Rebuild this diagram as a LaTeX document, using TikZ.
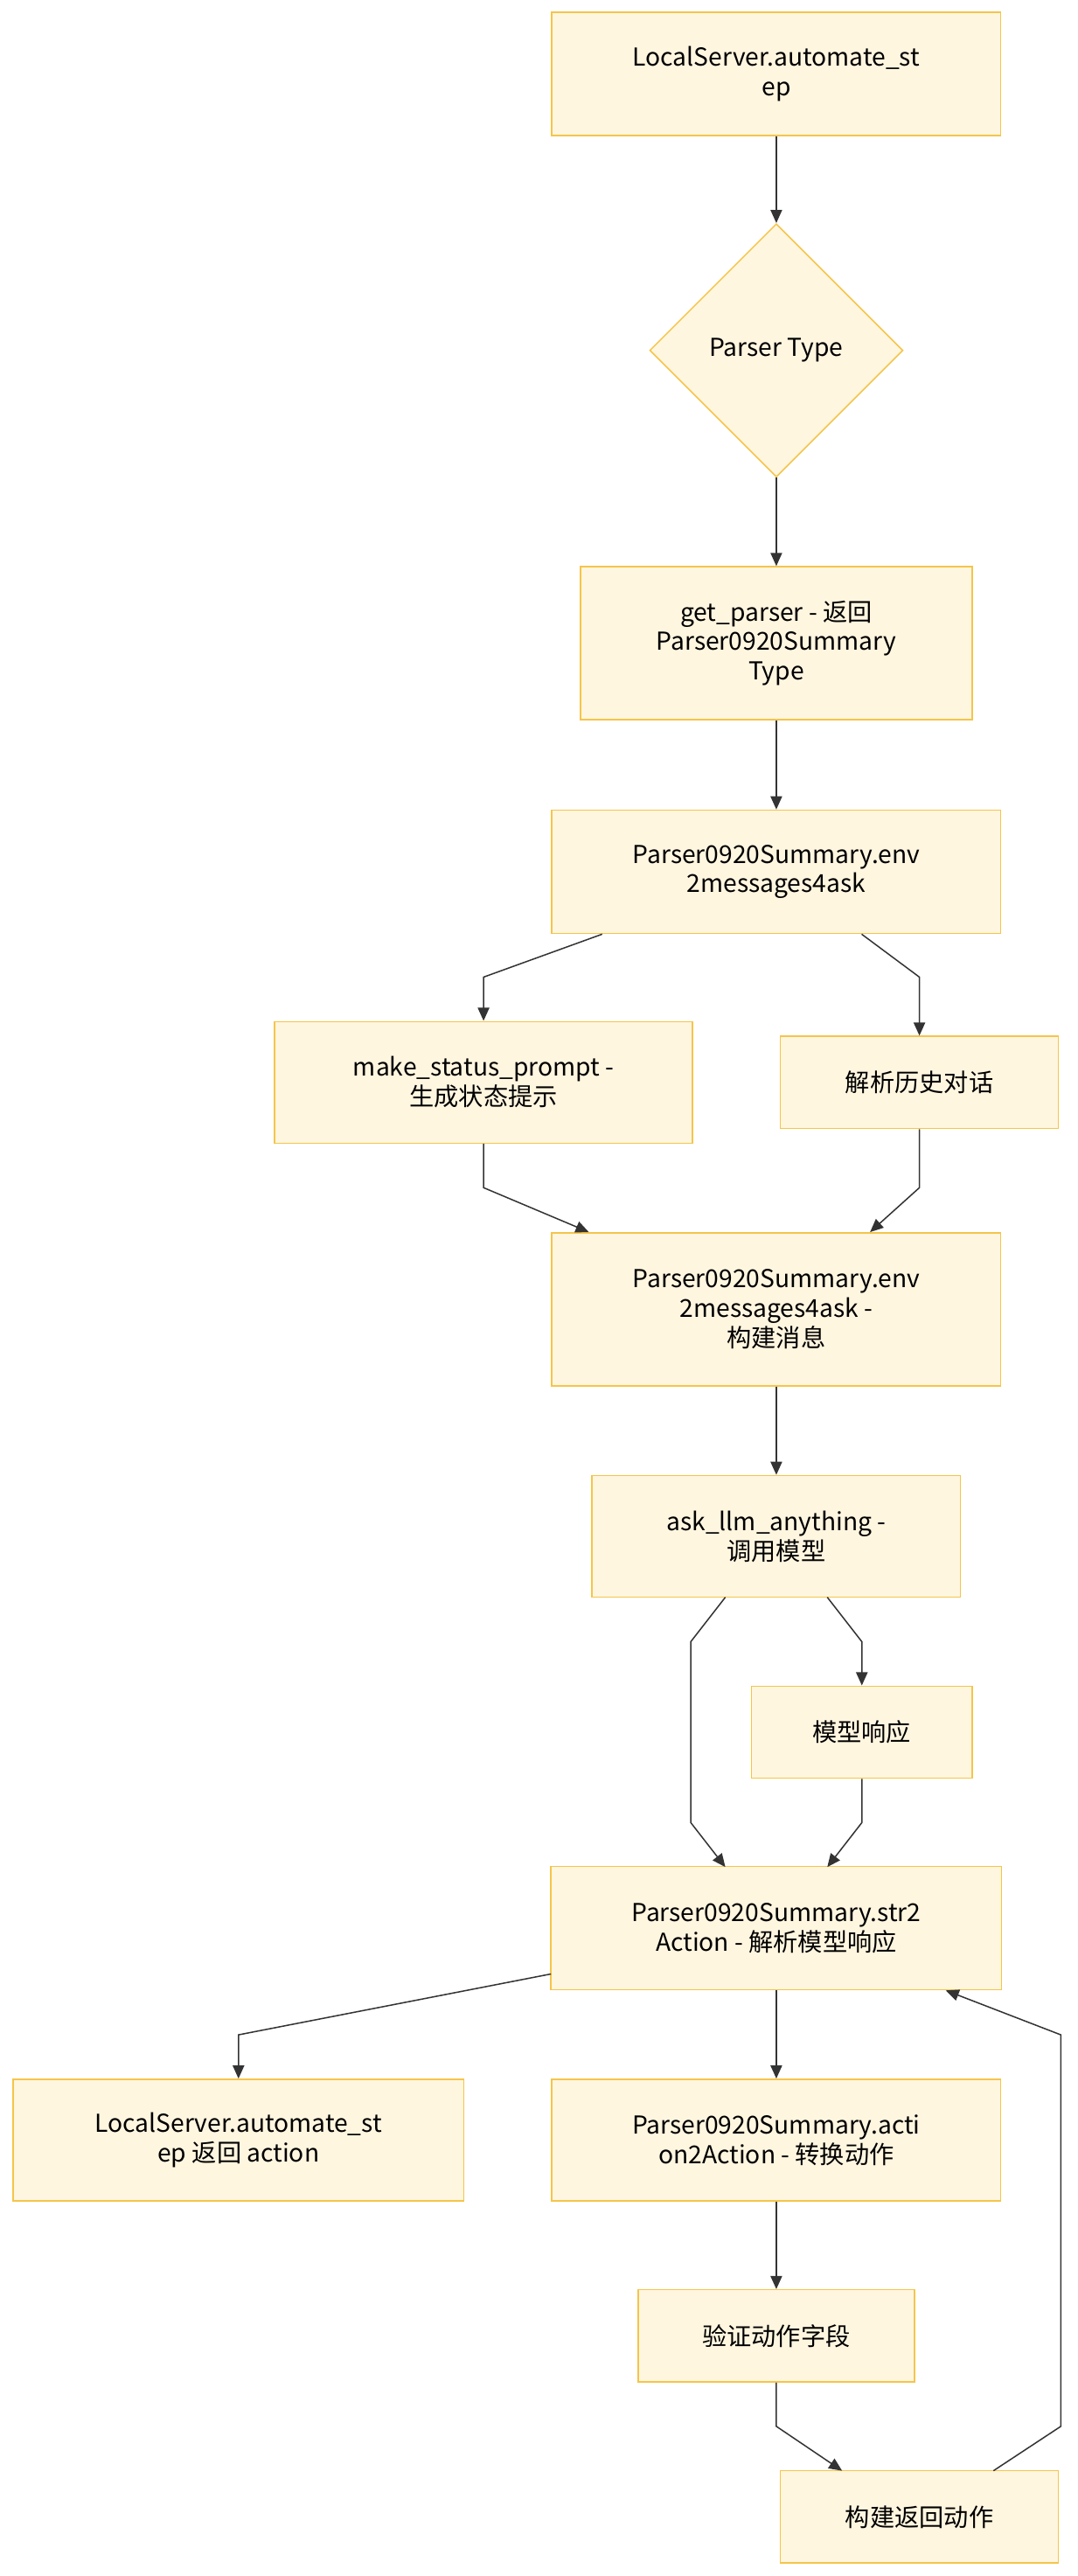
\documentclass[tikz,border=0pt]{standalone}
\usepackage{fontspec}
\setmainfont{Noto Sans CJK SC}
\usetikzlibrary{shapes.geometric}
\usetikzlibrary{arrows.meta}
\definecolor{boxfill}{HTML}{FFF6E0}
\definecolor{boxline}{HTML}{F5C54A}
\definecolor{edgecol}{HTML}{333333}
\tikzset{
  stepbox/.style={draw=boxline, fill=boxfill, line width=0.8pt, rectangle,
    align=center, font=\fontsize{15}{18}\selectfont, inner sep=0pt},
  choice/.style={draw=boxline, fill=boxfill, line width=0.8pt, diamond,
    aspect=1, minimum width=154pt, minimum height=154pt, inner sep=0pt,
    font=\fontsize{15}{18}\selectfont},
  flow/.style={draw=edgecol, line width=0.8pt, -{Triangle[length=8pt,width=7pt]}}
}
\begin{document}
\begin{tikzpicture}[x=1pt,y=-1pt]
\useasboundingbox (0,0) rectangle (655,1566);

\node[stepbox, minimum width=273pt, minimum height=75pt] (auto) at (472,45)
  {LocalServer.automate\_st\\ep};
\node[choice] (ptype) at (472,213) {Parser Type};
\node[stepbox, minimum width=238pt, minimum height=93pt] (getp) at (472,391)
  {get\_parser - 返回\\Parser0920Summary\\Type};
\node[stepbox, minimum width=273pt, minimum height=75pt] (env) at (472,530)
  {Parser0920Summary.env\\2messages4ask};
\node[stepbox, minimum width=254pt, minimum height=74pt] (status) at (294,658)
  {make\_status\_prompt -\\生成状态提示};
\node[stepbox, minimum width=169pt, minimum height=56pt] (hist) at (559,658)
  {解析历史对话};
\node[stepbox, minimum width=273pt, minimum height=93pt] (build) at (472,796)
  {Parser0920Summary.env\\2messages4ask -\\构建消息};
\node[stepbox, minimum width=224pt, minimum height=74pt] (ask) at (472,934)
  {ask\_llm\_anything -\\调用模型};
\node[stepbox, minimum width=134pt, minimum height=56pt] (resp) at (524,1053)
  {模型响应};
\node[stepbox, minimum width=274pt, minimum height=75pt] (str2) at (472,1172)
  {Parser0920Summary.str2\\Action - 解析模型响应};
\node[stepbox, minimum width=274pt, minimum height=74pt] (ret) at (145,1301)
  {LocalServer.automate\_st\\ep 返回 action};
\node[stepbox, minimum width=273pt, minimum height=74pt] (a2a) at (472,1301)
  {Parser0920Summary.acti\\on2Action - 转换动作};
\node[stepbox, minimum width=168pt, minimum height=56pt] (check) at (472,1420)
  {验证动作字段};
\node[stepbox, minimum width=169pt, minimum height=56pt] (make) at (559,1530)
  {构建返回动作};

% connectors
\draw[flow] (auto) -- (ptype);
\draw[flow] (ptype) -- (getp);
\draw[flow] (getp) -- (env);
\draw[flow] (env.south west) ++(31,0) -- (294,594) -- (status);
\draw[flow] (env.south east) ++(-85,0) -- (559,594) -- (hist);
\draw[flow] (status) -- (294,722) -- (358,749);
\draw[flow] (hist) -- (559,722) -- (529,749);
\draw[flow] (build) -- (ask);
\draw[flow] (441,971) -- (420,998) -- (420,1108) -- (441,1135);
\draw[flow] (503,971) -- (524,998) -- (resp);
\draw[flow] (resp) -- (524,1108) -- (503,1135);
\draw[flow] (335,1200) -- (145,1237) -- (ret);
\draw[flow] (str2) -- (a2a);
\draw[flow] (a2a) -- (check);
\draw[flow] (check) -- (472,1475) -- (512,1502);
\draw[flow] (604,1502) -- (645,1475) -- (645,1237) -- (575,1210);
\end{tikzpicture}
\end{document}
